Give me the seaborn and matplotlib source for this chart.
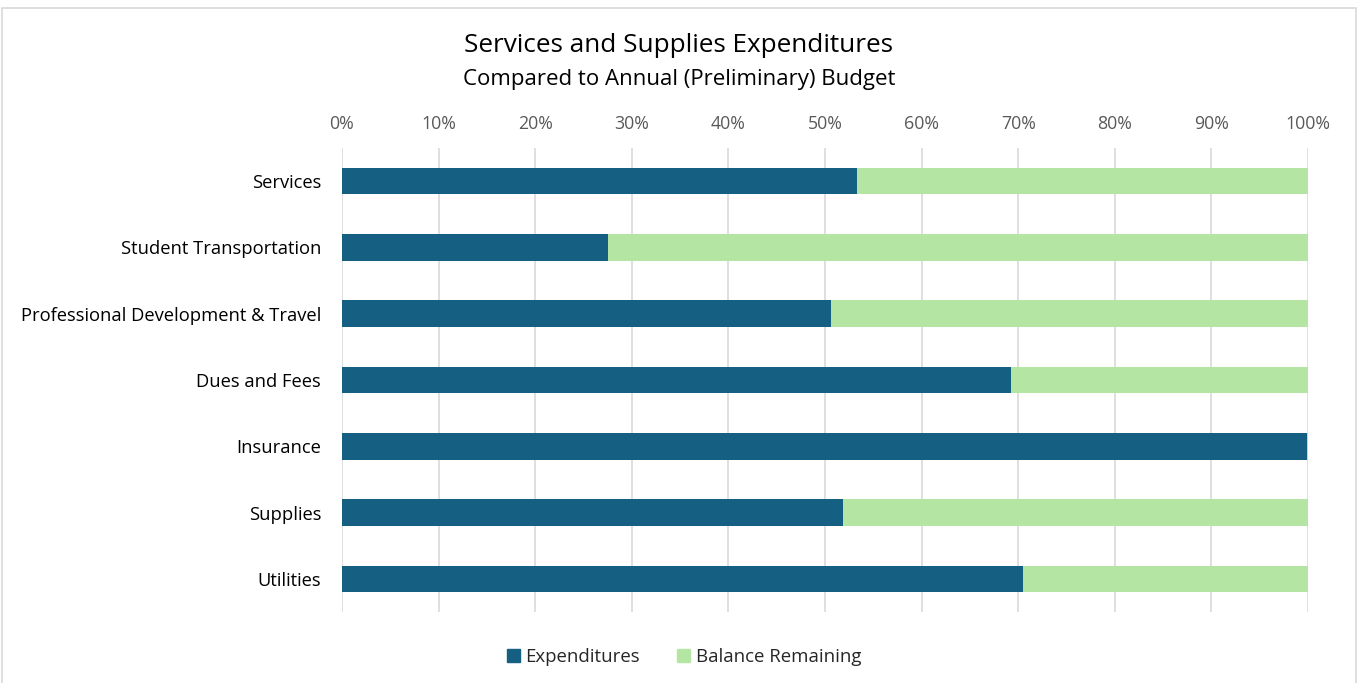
import matplotlib
matplotlib.use("Agg")
import matplotlib.pyplot as plt
import seaborn as sns
import pandas as pd
from matplotlib.patches import Rectangle
from matplotlib.ticker import PercentFormatter

categories = ["Services", "Student Transportation", "Professional Development & Travel",
              "Dues and Fees", "Insurance", "Supplies", "Utilities"]
expenditures = [53.3, 27.5, 50.6, 69.3, 99.9, 51.9, 70.5]
balance_remaining = [46.7, 72.5, 49.4, 30.7, 0.1, 48.1, 29.5]
x_ticks = [0, 10, 20, 30, 40, 50, 60, 70, 80, 90, 100]

EXP_COLOR = "#156082"
BAL_COLOR = "#B4E5A2"

df = pd.DataFrame({
    "category": categories,
    "Expenditures": expenditures,
    "Balance Remaining": balance_remaining,
})
df["total"] = df["Expenditures"] + df["Balance Remaining"]

sns.set_theme(style="white")
plt.rcParams["font.family"] = ["Open Sans", "DejaVu Sans"]

fig = plt.figure(figsize=(13.58, 6.83), dpi=100)
ax = fig.add_axes([342 / 1358, 1 - 612 / 683, 966 / 1358, 464 / 683])

# stacked bars: full total underneath, expenditures on top
sns.barplot(data=df, x="total", y="category", orient="h", color=BAL_COLOR,
            width=0.4, saturation=1, linewidth=0, ax=ax, zorder=2)
sns.barplot(data=df, x="Expenditures", y="category", orient="h", color=EXP_COLOR,
            width=0.4, saturation=1, linewidth=0, ax=ax, zorder=3)

ax.set_xlim(0, 100)
ax.set_xticks(x_ticks)
ax.xaxis.set_major_formatter(PercentFormatter(decimals=0))
ax.xaxis.tick_top()
ax.tick_params(axis="x", length=0, pad=11, labelsize=12.8, labelcolor="#595959")
ax.tick_params(axis="y", length=0, pad=15, labelsize=13.2, labelcolor="#000000")
ax.set_xlabel("")
ax.set_ylabel("")
ax.grid(axis="x", color="#D9D9D9", linewidth=1.2, zorder=0)
ax.grid(axis="y", visible=False)
ax.set_axisbelow(True)
for s in ax.spines.values():
    s.set_visible(False)

fig.text(0.5, 1 - 45 / 683, "Services and Supplies Expenditures", ha="center", va="center",
         fontsize=18.8, color="#000000")
fig.text(0.5, 1 - 79 / 683, "Compared to Annual (Preliminary) Budget", ha="center", va="center",
         fontsize=16, color="#000000")

handles = [Rectangle((0, 0), 1, 1, color=EXP_COLOR), Rectangle((0, 0), 1, 1, color=BAL_COLOR)]
fig.legend(handles, ["Expenditures", "Balance Remaining"], loc="center",
           bbox_to_anchor=(684 / 1358, 1 - 657 / 683), ncol=2, frameon=False,
           fontsize=13.4, handlelength=0.7, handleheight=0.7, handletextpad=0.3,
           columnspacing=2.0)

# chart frame
fig.patches.append(Rectangle((2 / 1358, -0.02), 1354 / 1358, 1 - 8 / 683 + 0.02,
                             transform=fig.transFigure, fill=False,
                             edgecolor="#D9D9D9", linewidth=1.2))

fig.savefig("out.png", dpi=100, facecolor="white")
